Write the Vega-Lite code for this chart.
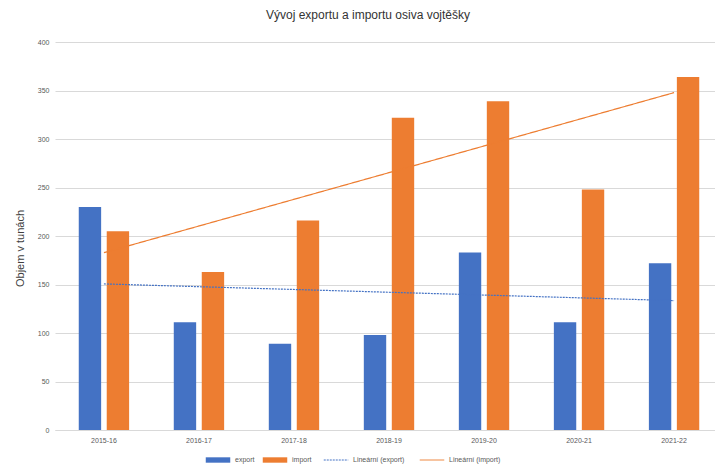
{
  "$schema": "https://vega.github.io/schema/vega-lite/v6.json",
  "autosize": "none",
  "width": 668,
  "height": 388,
  "padding": {"left": 55, "top": 42, "right": 0, "bottom": 37},
  "background": "white",
  "config": {
    "font": "Liberation Sans",
    "view": {"stroke": null}
  },
  "title": {
    "text": "Vývoj exportu a importu osiva vojtěšky",
    "fontSize": 12,
    "fontWeight": "normal",
    "color": "#333333",
    "anchor": "middle",
    "dx": -21,
    "offset": 16
  },
  "data": {
    "values": [
      {"rok": "2015-16", "rada": "export", "objem": 230},
      {"rok": "2015-16", "rada": "import", "objem": 205},
      {"rok": "2016-17", "rada": "export", "objem": 111},
      {"rok": "2016-17", "rada": "import", "objem": 163},
      {"rok": "2017-18", "rada": "export", "objem": 89},
      {"rok": "2017-18", "rada": "import", "objem": 216},
      {"rok": "2018-19", "rada": "export", "objem": 98},
      {"rok": "2018-19", "rada": "import", "objem": 322},
      {"rok": "2019-20", "rada": "export", "objem": 183},
      {"rok": "2019-20", "rada": "import", "objem": 339},
      {"rok": "2020-21", "rada": "export", "objem": 111},
      {"rok": "2020-21", "rada": "import", "objem": 248},
      {"rok": "2021-22", "rada": "export", "objem": 172},
      {"rok": "2021-22", "rada": "import", "objem": 364},
      {"rok": "2015-16", "rada": "Lineární (export)", "objem": 150.6},
      {"rok": "2021-22", "rada": "Lineární (export)", "objem": 133.4},
      {"rok": "2015-16", "rada": "Lineární (import)", "objem": 182.8},
      {"rok": "2021-22", "rada": "Lineární (import)", "objem": 347.8}
    ]
  },
  "encoding": {
    "x": {
      "field": "rok",
      "type": "nominal",
      "sort": null,
      "scale": {"paddingInner": 0.47, "paddingOuter": 0.25},
      "axis": {
        "title": null,
        "labelAngle": 0,
        "labelFontSize": 7,
        "labelColor": "#595959",
        "labelPadding": 6,
        "ticks": false,
        "domainColor": "#d9d9d9",
        "grid": false
      }
    },
    "y": {
      "field": "objem",
      "type": "quantitative",
      "scale": {"domain": [0, 400], "nice": false},
      "axis": {
        "title": "Objem v tunách",
        "titleFontSize": 11,
        "titleFontWeight": "normal",
        "titleColor": "#404040",
        "titleX": -30,
        "titleY": 206,
        "values": [0, 50, 100, 150, 200, 250, 300, 350, 400],
        "labelFontSize": 7,
        "labelColor": "#595959",
        "labelPadding": 6,
        "ticks": false,
        "domain": false,
        "gridColor": "#d9d9d9"
      }
    }
  },
  "layer": [
    {
      "transform": [{"filter": "datum.rada === 'export' || datum.rada === 'import'"}],
      "mark": {"type": "bar"},
      "encoding": {
        "xOffset": {
          "field": "rada",
          "type": "nominal",
          "sort": ["export", "import"],
          "scale": {"paddingInner": 0.2, "paddingOuter": 0}
        },
        "fill": {
          "field": "rada",
          "type": "nominal",
          "scale": {"domain": ["export", "import"], "range": ["#4472C4", "#ED7D31"]},
          "legend": {
            "title": null,
            "orient": "none",
            "direction": "horizontal",
            "legendX": 150,
            "legendY": 405,
            "labelFontSize": 7,
            "labelColor": "#595959",
            "symbolType": "M-1,-0.22H1V0.22H-1Z",
            "symbolSize": 600,
            "columnPadding": 7
          }
        }
      }
    },
    {
      "transform": [{"filter": "indexof(datum.rada, 'Lineární') === 0"}],
      "mark": {"type": "line", "strokeWidth": 1.2},
      "encoding": {
        "stroke": {
          "field": "rada",
          "type": "nominal",
          "scale": {
            "domain": ["Lineární (export)", "Lineární (import)"],
            "range": ["#4472C4", "#ED7D31"]
          },
          "legend": {
            "title": null,
            "orient": "none",
            "direction": "horizontal",
            "legendX": 268,
            "legendY": 405,
            "labelFontSize": 7,
            "labelColor": "#595959",
            "symbolType": "stroke",
            "symbolSize": 600,
            "symbolStrokeWidth": 1,
            "columnPadding": 12
          }
        },
        "strokeDash": {
          "field": "rada",
          "type": "nominal",
          "scale": {
            "domain": ["Lineární (export)", "Lineární (import)"],
            "range": [[2, 1], [1, 0]]
          },
          "legend": null
        }
      }
    }
  ]
}
